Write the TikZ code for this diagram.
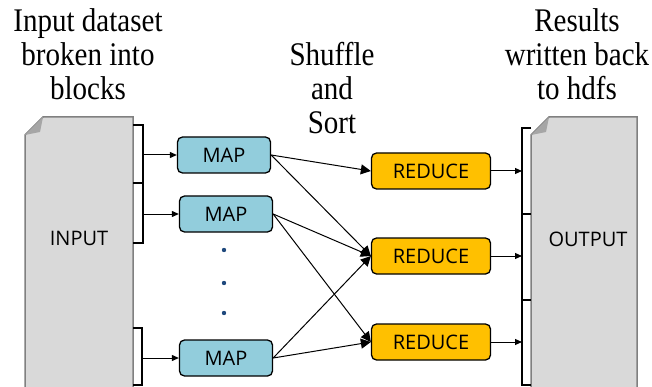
\documentclass[tikz,border=0pt]{standalone}
\usepackage{fontspec}
\setmainfont{Liberation Serif}
\newfontfamily\headfont[FakeStretch=0.88]{Liberation Serif}
\newfontfamily\boxfont{Open Sans}
\usetikzlibrary{arrows.meta,positioning}
\definecolor{mapblue}{RGB}{146,205,220}
\definecolor{redorange}{RGB}{255,192,0}
\definecolor{docgray}{RGB}{217,217,217}
\definecolor{docedge}{RGB}{128,128,128}
\definecolor{foldgray}{RGB}{166,166,166}
\definecolor{dotblue}{RGB}{31,73,125}

\begin{document}
\begin{tikzpicture}[x=1pt,y=-1pt,
   box/.style={draw,line width=1.3pt,rounded corners=5pt,inner sep=0pt,
               font=\boxfont\fontsize{20}{20}\selectfont},
   mapbox/.style={box,fill=mapblue,minimum width=93pt,minimum height=36pt},
   redbox/.style={box,fill=redorange,minimum width=119pt,minimum height=36pt},
   head/.style={align=center,font=\headfont\fontsize{33}{34}\selectfont},
   feed/.style={-{Triangle[length=7pt,width=6pt]},line width=1pt},
   shuf/.style={-{Triangle[length=10pt,width=10pt]},line width=1pt},
   brk/.style={line width=1.5pt}]
  \useasboundingbox (0,0) rectangle (652,387);
  % headings
  \node[head] (hin) at (88,54) {Input dataset\\broken into\\blocks};
  \node[head] (hsh) at (332,88) {Shuffle\\and\\Sort};
  \node[head] (hout) at (577,54) {Results\\written back\\to hdfs};
  % input document
  \draw[docedge,fill=docgray,line width=1.5pt]
       (25,135) -- (43,117) -- (133,117) -- (133,392) -- (25,392) -- cycle;
  \fill[foldgray] (25,135) -- (43,117) -- (40,132) -- cycle;
  \node[font=\boxfont\fontsize{20}{20}\selectfont] (inp) at (79,238) {INPUT};
  % output document
  \draw[docedge,fill=docgray,line width=1.5pt]
       (531,135) -- (549,117) -- (637,117) -- (637,392) -- (531,392) -- cycle;
  \fill[foldgray] (531,135) -- (549,117) -- (546,132) -- cycle;
  \node[font=\boxfont\fontsize{20}{20}\selectfont] (outp) at (588,239) {OUTPUT};
  % map and reduce
  \node[mapbox] (map1) at (224,155) {MAP};
  \node[mapbox] (map2) at (226,214) {MAP};
  \node[mapbox] (map3) at (226,358) {MAP};
  \node[redbox] (red1) at (431,171) {REDUCE};
  \node[redbox] (red2) at (431,256) {REDUCE};
  \node[redbox] (red3) at (431,342) {REDUCE};
  \foreach \y in {250,283,313}
    \fill[dotblue] (224,\y) circle (2.2pt);
  % input brackets
  \draw[brk] (133,125) -- (143,125) -- (143,183) -- (133,183)
             -- (143,183) -- (143,243) -- (133,243);
  \draw[brk] (133,328) -- (142,328) -- (142,385) -- (133,385);
  \coordinate (b1) at (143,155);
  \coordinate (b2) at (143,214);
  \coordinate (b3) at (142,358);
  \draw[feed] (b1) -- (map1.west);
  \draw[feed] (b2) -- (map2.west);
  \draw[feed] (b3) -- (map3.west);
  % shuffle
  \draw[shuf] (map1.east) -- (red1.west);
  \draw[shuf] (map1.east) -- (red2.west);
  \draw[shuf] (map2.east) -- (red2.west);
  \draw[shuf] (map2.east) -- (red3.west);
  \draw[shuf] (map3.east) -- (red2.west);
  \draw[shuf] (map3.east) -- (red3.west);
  % output bracket
  \draw[brk] (531,128) -- (522,128) -- (522,385) -- (531,385);
  \draw[brk] (522,214) -- (531,214);
  \draw[brk] (522,300) -- (531,300);
  \coordinate (ox) at (522,0);
  \draw[feed] (red1.east) -- (red1.east -| ox);
  \draw[feed] (red2.east) -- (red2.east -| ox);
  \draw[feed] (red3.east) -- (red3.east -| ox);
\end{tikzpicture}
\end{document}
